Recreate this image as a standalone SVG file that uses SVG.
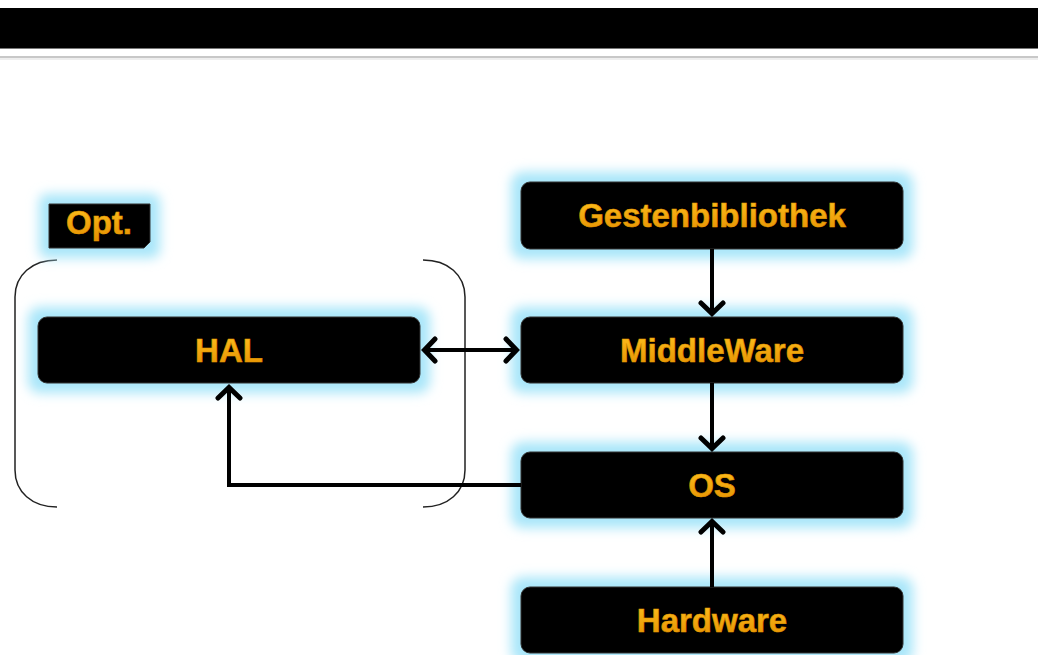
<svg xmlns="http://www.w3.org/2000/svg" width="1038" height="655" viewBox="0 0 1038 655">
<defs>
<style>
.box{fill:#000;stroke:#333;stroke-width:1}
.glow{fill:#a9e6f9;filter:url(#blur)}
.lbl{font-family:"Liberation Sans",Arial,sans-serif;font-weight:bold;font-size:33px;fill:url(#og);stroke:#e49a00;stroke-width:0.6;text-anchor:middle}
.conn{fill:none;stroke:#000;stroke-width:4}
.brk{fill:none;stroke:#222;stroke-width:1.5}
</style>
<filter id="blur" x="-20%" y="-50%" width="140%" height="200%"><feGaussianBlur stdDeviation="6"/></filter>
<linearGradient id="og" x1="0" y1="0" x2="0" y2="1">
<stop offset="0" stop-color="#ffc21f"/>
<stop offset="1" stop-color="#e48e00"/>
</linearGradient>
<marker id="ah" viewBox="-16 -14 18 28" markerWidth="18" markerHeight="28" refX="0" refY="0" orient="auto-start-reverse" markerUnits="userSpaceOnUse">
<path d="M-12,-11 L-1.5,0 L-12,11" fill="none" stroke="#000" stroke-width="5" stroke-linecap="round" stroke-linejoin="miter"/>
</marker>
</defs>
<rect width="1038" height="655" fill="#fff"/>
<rect x="0" y="8" width="1038" height="40" fill="#000"/>
<line x1="0" y1="48.5" x2="1038" y2="48.5" stroke="#777" stroke-width="1"/>
<line x1="0" y1="57" x2="1038" y2="57" stroke="#c8c8c8" stroke-width="2"/>
<line x1="0" y1="59" x2="1038" y2="59" stroke="#eee" stroke-width="2"/>

<g id="bracket">
<path class="brk" d="M57,260 C32,260 15,275 15,297 L15,470 C15,492 32,507 57,507"/>
<path class="brk" d="M423,260 C448,260 465,275 465,297 L465,470 C465,492 448,507 423,507"/>
</g>

<g id="opt">
<rect class="glow" x="39" y="194" width="121" height="64" rx="8"/>
<polygon class="box" points="49,204 150,204 150,242 144,248 49,248"/>
<text class="lbl" x="99" y="234">Opt.</text>
</g>

<g id="hal">
<rect class="glow" x="28" y="307" width="402" height="86" rx="12"/>
<rect class="box" x="38" y="317" width="382" height="66" rx="9"/>
<text class="lbl" x="229" y="362">HAL</text>
</g>

<g id="gesten">
<rect class="glow" x="511" y="172" width="402" height="87" rx="12"/>
<rect class="box" x="521" y="182" width="382" height="67" rx="9"/>
<text class="lbl" x="712" y="227">Gestenbibliothek</text>
</g>

<g id="middleware">
<rect class="glow" x="511" y="307" width="402" height="86" rx="12"/>
<rect class="box" x="521" y="317" width="382" height="66" rx="9"/>
<text class="lbl" x="712" y="362">MiddleWare</text>
</g>

<g id="os">
<rect class="glow" x="511" y="442" width="402" height="86" rx="12"/>
<rect class="box" x="521" y="452" width="382" height="66" rx="9"/>
<text class="lbl" x="712" y="497">OS</text>
</g>

<g id="hardware">
<rect class="glow" x="511" y="577" width="402" height="86" rx="12"/>
<rect class="box" x="521" y="587" width="382" height="66" rx="9"/>
<text class="lbl" x="712" y="632">Hardware</text>
</g>

<g id="connectors">
<line class="conn" x1="712" y1="249" x2="712" y2="315" marker-end="url(#ah)"/>
<line class="conn" x1="712" y1="383" x2="712" y2="450" marker-end="url(#ah)"/>
<line class="conn" x1="712" y1="587" x2="712" y2="520" marker-end="url(#ah)"/>
<line class="conn" x1="423" y1="350" x2="518" y2="350" marker-start="url(#ah)" marker-end="url(#ah)"/>
<polyline class="conn" points="521,485 229,485 229,386" marker-end="url(#ah)"/>
</g>
</svg>
